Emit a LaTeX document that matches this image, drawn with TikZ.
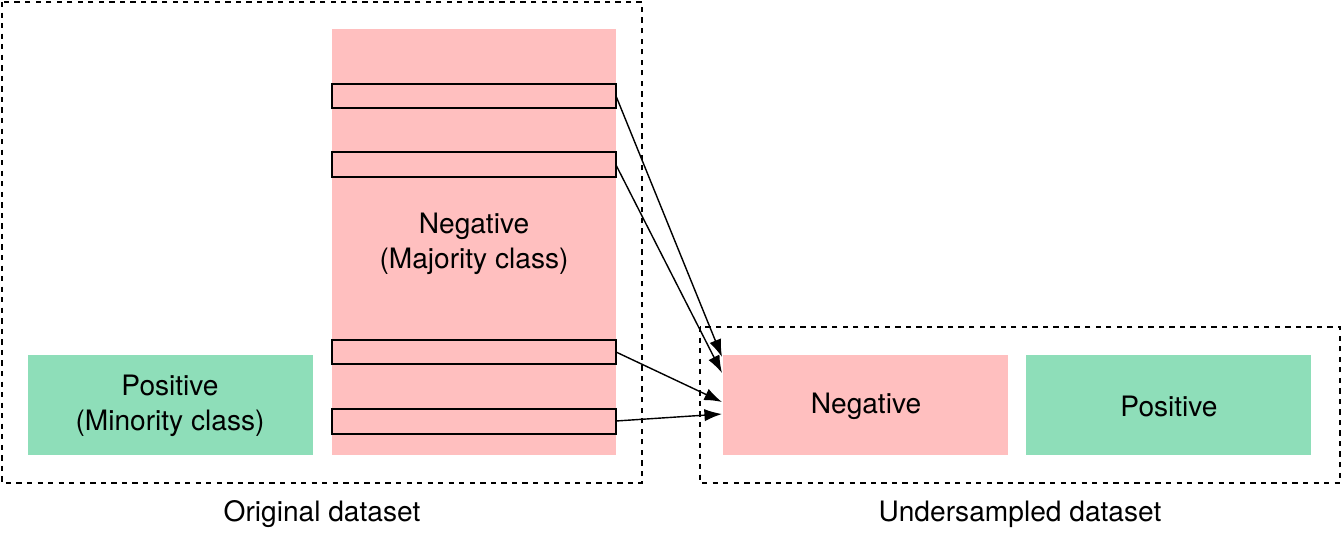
\documentclass[tikz,border=0pt]{standalone}
\usepackage{fontspec}
\setmainfont{TeX Gyre Heros}
\usetikzlibrary{arrows.meta}
\definecolor{negpink}{HTML}{FFBFBF}
\definecolor{posgreen}{HTML}{8EDEB9}
\tikzset{
  block/.style={inner sep=0pt,align=center,font=\fontsize{16}{20}\selectfont},
  frame/.style={draw,dashed,line width=0.8pt},
  strip/.style={draw,fill=negpink,line width=0.8pt},
  pick/.style={-{Latex[length=10pt,width=7pt]},line width=0.8pt}
}
\begin{document}
\begin{tikzpicture}[x=0.02cm,y=-0.02cm]
  \useasboundingbox (0,0) rectangle (1342,544);
  \draw[frame] (2,2) rectangle (642,483);
  \draw[frame] (700,327) rectangle (1340,483);
  \fill[negpink] (332,29) rectangle (616,455);
  \node[block] (maj) at (474,244) {Negative\\(Majority class)};
  \draw[strip] (332,84) rectangle (616,108) coordinate (s1);
  \draw[strip] (332,152) rectangle (616,177) coordinate (s2);
  \draw[strip] (332,340) rectangle (616,364) coordinate (s3);
  \draw[strip] (332,409) rectangle (616,434) coordinate (s4);
  \fill[posgreen] (28,355) rectangle (313,455);
  \node[block] (minor) at (170,406) {Positive\\(Minority class)};
  \fill[negpink] (723,355) rectangle (1008,455);
  \node[block] (neg) at (866,406) {Negative};
  \fill[posgreen] (1026,355) rectangle (1311,455);
  \node[block] (pos) at (1169,406) {Positive};
  \node[block] (orig) at (322,514) {Original dataset};
  \node[block] (under) at (1020,514) {Undersampled dataset};
  \coordinate (e1) at (616,96);
  \coordinate (e2) at (616,165);
  \coordinate (e3) at (616,352);
  \coordinate (e4) at (616,421);
  \coordinate (t1) at (722,357);
  \coordinate (t2) at (722,373);
  \coordinate (t3) at (722,402);
  \coordinate (t4) at (722,414);
  \foreach \i in {1,...,4}
    \draw[pick] (e\i) -- (t\i);
\end{tikzpicture}
\end{document}
